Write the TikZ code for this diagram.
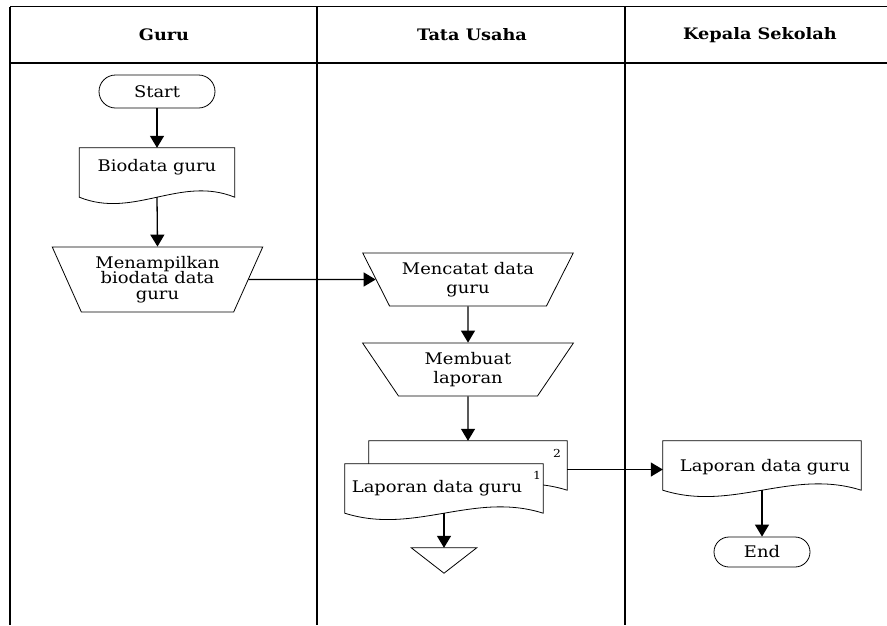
\documentclass[tikz,border=0pt]{standalone}
\usepackage{fontspec}
\setmainfont{DejaVu Serif}[FakeStretch=1.12]
\usetikzlibrary{shapes.geometric,shapes.misc,arrows.meta,calc}
\newcommand{\bodyfont}{\fontsize{16}{19.5}\selectfont}
\newcommand{\tightfont}{\fontsize{16}{15.5}\selectfont}
\newcommand{\hdrfont}{\fontsize{15.8}{19}\selectfont\bfseries}
\newcommand{\numfont}{\fontsize{11}{13}\selectfont}
\newcommand{\docoutline}[2]{%
  \draw[shapeline,#2] (#1.south west) -- (#1.north west) -- (#1.north east) -- (#1.south east)
    .. controls ($(#1.south west)!0.65!(#1.south east)+(0,-22)$) and ($(#1.south west)!0.35!(#1.south east)+(0,22)$) .. (#1.south west) -- cycle;}
\begin{document}
\begin{tikzpicture}[x=1pt,y=-1pt,
  shapeline/.style={draw=black, line width=0.8pt},
  tbl/.style={line width=1.2pt},
  arr/.style={line width=1.3pt, -{Triangle[length=12pt,width=14pt]}},
  txt/.style={font=\bodyfont, align=center, inner sep=0pt},
  hdr/.style={font=\hdrfont, inner sep=0pt},
  num/.style={font=\numfont, inner sep=0pt},
  term/.style={rounded rectangle, shapeline, txt},
  manop/.style={trapezium, trapezium stretches=true, trapezium left angle=#1, trapezium right angle=#1, shapeline, txt, minimum width=211pt},
  docbox/.style={rectangle, draw=none, inner sep=0pt, minimum width=#1, minimum height=49pt},
  tribox/.style={rectangle, draw=none, inner sep=0pt, minimum width=65pt, minimum height=25pt}
  ]
\useasboundingbox (0,0) rectangle (887,625);
% table
\draw[tbl] (10,6.5) -- (887,6.5);
\draw[tbl] (10,63) -- (887,63);
\draw[line width=2pt] (10,6.5) -- (10,625);
\draw[tbl] (317,6.5) -- (317,625);
\draw[tbl] (625,6.5) -- (625,625);
\node[hdr] (h1) at (164,35) {Guru};
\node[hdr] (h2) at (472,35) {Tata Usaha};
\node[hdr] (h3) at (760,35) {Kepala Sekolah};
% Guru lane
\node[term, minimum width=116pt, minimum height=33pt] (start) at (157,91.5) {Start};
\node[docbox=155pt] (bio) at (157,172.5) {};
\docoutline{bio}{}
\node[txt] (biot) at (157,167) {Biodata guru};
\node[manop=116.9, minimum height=65pt, font=\tightfont] (men) at (157.5,279.5) {Menampilkan\\biodata data\\guru};
% Tata Usaha lane
\node[manop=122.7, minimum height=53pt] (menc) at (468,279.5) {Mencatat data\\guru};
\node[manop=122.7, minimum height=53pt] (mb) at (468,369.5) {Membuat\\laporan};
\node[docbox=198pt] (lap2) at (468,465.5) {};
\node[docbox=198pt] (lap1) at (444,488.5) {};
\docoutline{lap2}{fill=white}
\docoutline{lap1}{fill=white}
\node[txt] (lapt) at (437,488) {Laporan data guru};
\node[num] (n2) at (557,453) {2};
\node[num] (n1) at (537,475) {1};
\node[tribox] (tri) at (444,560.5) {};
\draw[shapeline] (tri.north west) -- (tri.north east) -- (tri.south) -- cycle;
% Kepala Sekolah lane
\node[docbox=198pt] (rd) at (762,465.5) {};
\docoutline{rd}{}
\node[txt] (rdt) at (765,467) {Laporan data guru};
\node[term, minimum width=96pt, minimum height=30pt] (end) at (762,552) {End};
% connectors
\draw[arr] (start.south) -- (bio.north);
\draw[arr] (bio.south) -- (men.north);
\draw[arr] (men.east) -- (menc.west);
\draw[arr] (menc.south) -- (mb.north);
\draw[arr] (mb.south) -- (lap2.north);
\draw[arr] ([yshift=-4pt]lap2.east) -- ([yshift=-4pt]rd.west);
\draw[arr] (lap1.south) -- (tri.north);
\draw[arr] (rd.south) -- (end.north);
\end{tikzpicture}
\end{document}
